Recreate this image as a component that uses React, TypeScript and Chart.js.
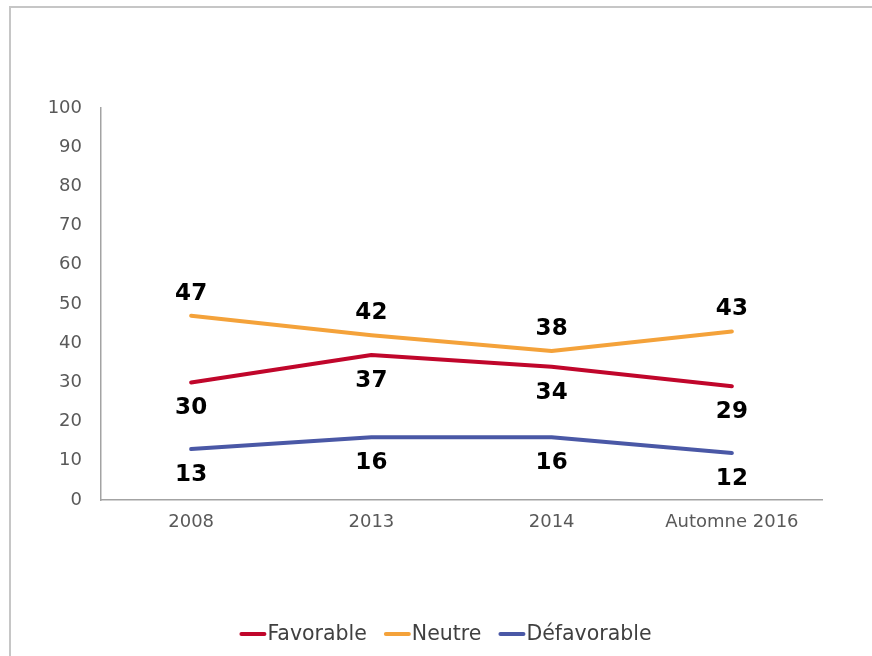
import { useEffect, useRef } from 'react';
import { Chart, registerables } from 'chart.js';

Chart.register(...registerables);

const categories = ['2008', '2013', '2014', 'Automne 2016'];
const favorable = [30, 37, 34, 29];
const neutre = [47, 42, 38, 43];
const defavorable = [13, 16, 16, 12];
const seriesNames = ['Favorable', 'Neutre', 'Défavorable'];
const seriesColors = ['#C0062B', '#F4A23A', '#4A58A6'];
const labelSides = ['below', 'above', 'below'];

const FONT = '"DejaVu Sans", Verdana, sans-serif';

const framePlugin = {
  id: 'frame',
  beforeDraw(chart: any) {
    const ctx = chart.ctx;
    ctx.save();
    ctx.fillStyle = '#ffffff';
    ctx.fillRect(0, 0, chart.width, chart.height);
    ctx.strokeStyle = '#c6c6c6';
    ctx.lineWidth = 2;
    ctx.beginPath();
    ctx.moveTo(10, chart.height + 2);
    ctx.lineTo(10, 7);
    ctx.lineTo(chart.width + 2, 7);
    ctx.stroke();
    ctx.restore();
  },
};

const dataLabelsPlugin = {
  id: 'dataLabels',
  afterDatasetsDraw(chart: any) {
    const ctx = chart.ctx;
    ctx.save();
    ctx.font = `bold 23px ${FONT}`;
    ctx.fillStyle = '#000000';
    ctx.textAlign = 'center';
    ctx.textBaseline = 'middle';
    chart.data.datasets.forEach((ds: any, i: number) => {
      const meta = chart.getDatasetMeta(i);
      meta.data.forEach((pt: any, j: number) => {
        const off = labelSides[i] === 'above' ? -22 : 26;
        ctx.fillText(String(ds.data[j]), pt.x, pt.y + off);
      });
    });
    ctx.restore();
  },
};

const legendPlugin = {
  id: 'customLegend',
  afterDraw(chart: any) {
    const ctx = chart.ctx;
    ctx.save();
    ctx.font = `20.5px ${FONT}`;
    ctx.textBaseline = 'middle';
    ctx.textAlign = 'left';
    const lineW = 25;
    const gap = 2;
    const spacing = 18;
    const widths = seriesNames.map((n) => ctx.measureText(n).width);
    const total = widths.reduce((a, w) => a + lineW + gap + w, 0) + spacing * (seriesNames.length - 1);
    let x = 446 - total / 2;
    const y = 634;
    seriesNames.forEach((n, i) => {
      ctx.strokeStyle = seriesColors[i];
      ctx.lineWidth = 4;
      ctx.lineCap = 'round';
      ctx.beginPath();
      ctx.moveTo(x + 1, y);
      ctx.lineTo(x + lineW - 1, y);
      ctx.stroke();
      ctx.fillStyle = '#404040';
      ctx.fillText(n, x + lineW + gap, y + 1);
      x += lineW + gap + widths[i] + spacing;
    });
    ctx.restore();
  },
};

export default function App() {
  const ref = useRef<HTMLCanvasElement>(null);
  useEffect(() => {
    const seriesData = [favorable, neutre, defavorable];
    const chart = new Chart(ref.current as HTMLCanvasElement, {
      type: 'line',
      data: {
        labels: categories,
        datasets: seriesNames.map((name, i) => ({
          label: name,
          data: seriesData[i],
          borderColor: seriesColors[i],
          backgroundColor: seriesColors[i],
          borderWidth: 4,
          borderCapStyle: 'round',
          borderJoinStyle: 'round',
          pointRadius: 0,
          tension: 0,
          fill: false,
        })),
      },
      options: {
        animation: false,
        responsive: true,
        maintainAspectRatio: false,
        layout: { padding: { top: 108, left: 0, right: 50, bottom: 116 } },
        plugins: {
          legend: { display: false },
          tooltip: { enabled: false },
        },
        scales: {
          x: {
            type: 'category',
            offset: true,
            grid: { display: false },
            border: { display: true, color: '#a3a3a3', width: 1.5 },
            ticks: {
              color: '#595959',
              font: { family: FONT, size: 18 },
              padding: 4,
              maxRotation: 0,
              autoSkip: false,
            },
            afterFit(scale: any) {
              scale.height = 40;
            },
          },
          y: {
            min: 0,
            max: 100,
            grid: { display: false },
            border: { display: true, color: '#a3a3a3', width: 1.5 },
            ticks: {
              stepSize: 10,
              color: '#595959',
              font: { family: FONT, size: 18 },
              padding: 11,
            },
            afterFit(scale: any) {
              scale.width = 101;
            },
          },
        },
      } as any,
      plugins: [framePlugin, dataLabelsPlugin, legendPlugin],
    });
    return () => chart.destroy();
  }, []);

  return (
    <div style={{ position: 'fixed', left: 0, top: 0, width: 872, height: 656 }}>
      <canvas ref={ref} />
    </div>
  );
}
